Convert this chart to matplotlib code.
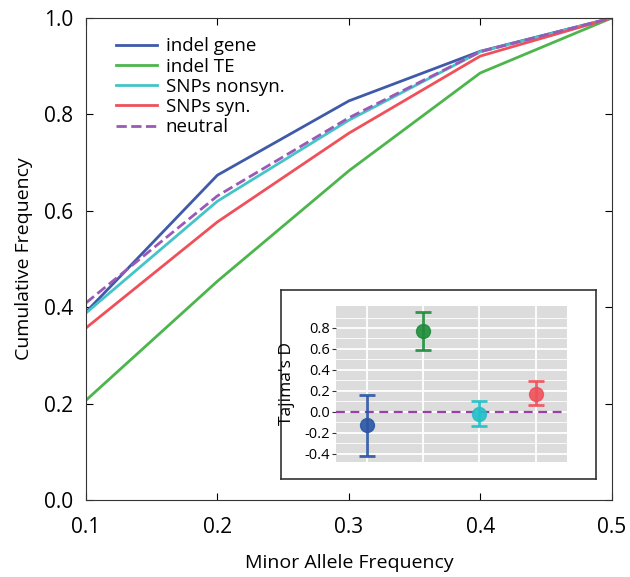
import matplotlib
matplotlib.use('Agg')
import matplotlib.pyplot as plt
import numpy as np

plt.rcParams['font.family'] = ['Open Sans', 'DejaVu Sans']

# cumulative frequency of minor allele frequency
maf = [0.1, 0.2, 0.3, 0.4, 0.5]
indel_gene = [0.390, 0.674, 0.828, 0.931, 1.0]
indel_te = [0.207, 0.454, 0.683, 0.886, 1.0]
snp_nonsyn = [0.388, 0.620, 0.788, 0.930, 1.0]
snp_syn = [0.357, 0.577, 0.761, 0.921, 1.0]
neutral = [0.409, 0.631, 0.793, 0.930, 1.0]
names = ['indel gene', 'indel TE', 'SNPs nonsyn.', 'SNPs syn.', 'neutral']

# Tajima's D inset
taj_mean = [-0.13, 0.77, -0.02, 0.17]
taj_lo = [-0.42, 0.59, -0.14, 0.06]
taj_hi = [0.16, 0.95, 0.10, 0.29]

line_cols = ['#3f5aa8', '#4cb54c', '#45c4c8', '#f0505a', '#9b59b6']
dot_cols = ['#2b55a5', '#1e8c3a', '#22c0c8', '#f0505a']

fig = plt.figure(figsize=(6.3, 5.77), dpi=100)
ax = fig.add_axes([0.1365, 0.1334, 0.8345, 0.8354])

series = [indel_gene, indel_te, snp_nonsyn, snp_syn, neutral]
for i, s in enumerate(series):
    ls = '--' if names[i] == 'neutral' else '-'
    ax.plot(maf, s, color=line_cols[i], lw=2, ls=ls, label=names[i])

ax.set_xlim(0.1, 0.5)
ax.set_ylim(0, 1.0)
ax.set_xticks(maf)
ax.set_yticks([0, 0.2, 0.4, 0.6, 0.8, 1.0])
ax.tick_params(direction='in', top=True, right=True, length=5, labelsize=15)
ax.tick_params(axis='x', pad=12)
ax.tick_params(axis='y', pad=9)
ax.set_xlabel('Minor Allele Frequency', fontsize=14, labelpad=12)
ax.set_ylabel('Cumulative Frequency', fontsize=14, labelpad=8)
for sp in ax.spines.values():
    sp.set_color('#333333')
ax.legend(loc='upper left', bbox_to_anchor=(0.025, 0.995), frameon=False, fontsize=13.5,
          handlelength=2.2, labelspacing=0.12, handletextpad=0.45)

# inset frame
frame = fig.add_axes([0.446, 0.170, 0.5, 0.3276])
frame.set_xticks([])
frame.set_yticks([])
for sp in frame.spines.values():
    sp.set_color('#333333')
    sp.set_linewidth(1.2)

ins = fig.add_axes([0.533, 0.1993, 0.3667, 0.2704])
ins.set_facecolor('#dcdcdc')
xs = np.arange(1, 5)
ins.set_xlim(0.45, 4.55)
ins.set_ylim(-0.48, 1.01)
ins.set_xticks(xs)
ins.set_yticks([-0.4, -0.2, 0.0, 0.2, 0.4, 0.6, 0.8])
ins.set_yticks(np.arange(-0.3, 1.0, 0.2), minor=True)
ins.grid(True, which='major', color='white', lw=1.3)
ins.grid(True, which='minor', axis='y', color='white', lw=0.6)
ins.set_axisbelow(True)
ins.tick_params(axis='x', length=0, labelbottom=False)
ins.tick_params(axis='y', which='major', length=3, labelsize=10.5, pad=1, color='#333333')
ins.tick_params(axis='y', which='minor', length=0)
ins.set_yticklabels(['-0.4', '-0.2', '0.0', '0.2', '0.4', '0.6', '0.8'])
for sp in ins.spines.values():
    sp.set_visible(False)
ins.axhline(0, color='#9b3fa8', ls='--', lw=1.6, dashes=(4, 2.5), zorder=2)
for i in range(4):
    ins.errorbar(xs[i], taj_mean[i],
                 yerr=[[taj_mean[i] - taj_lo[i]], [taj_hi[i] - taj_mean[i]]],
                 fmt='o', color=dot_cols[i], ms=10, lw=2, capsize=6, capthick=2,
                 alpha=0.9, zorder=3)
ins.set_ylabel("Tajima's D", fontsize=12.5, labelpad=7)

fig.savefig('out.png', dpi=100)
